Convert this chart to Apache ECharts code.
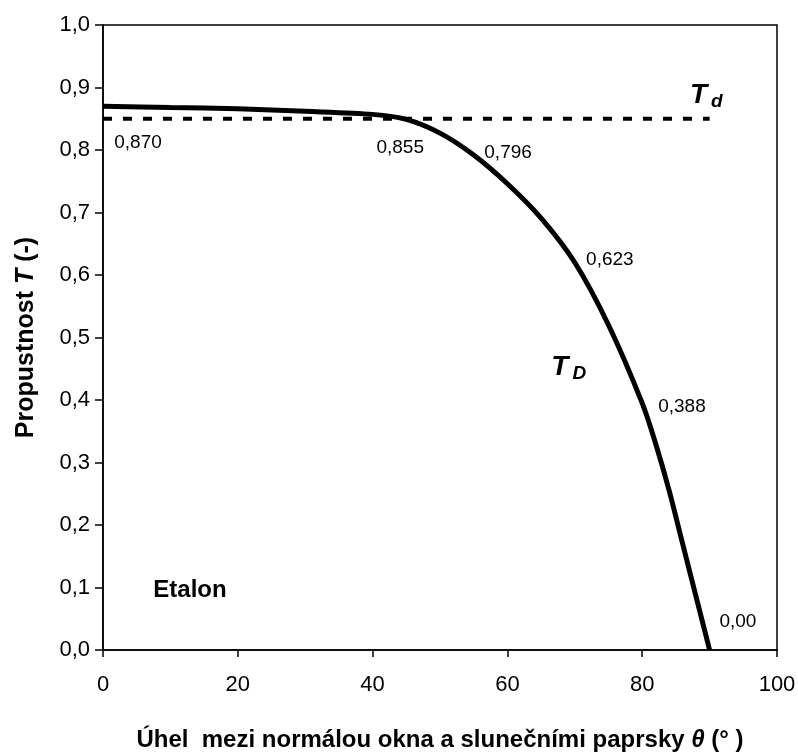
<!DOCTYPE html>
<html>
<head>
<meta charset="utf-8">
<script src="https://cdn.jsdelivr.net/npm/echarts@6/dist/echarts.min.js"></script>
<style>
  html, body { margin: 0; padding: 0; background: #fff; }
  #main { width: 798px; height: 756px; }
</style>
</head>
<body>
<div id="main"></div>
<script>
// úhel dopadu (°) a propustnost T_D
const theta = [0, 10, 20, 30, 40, 45, 50, 55, 60, 65, 70, 75, 80, 82, 84, 86, 88, 90];
const tD = [0.870, 0.868, 0.866, 0.862, 0.857, 0.849, 0.827, 0.792, 0.746, 0.691, 0.620, 0.520, 0.395, 0.330, 0.255, 0.170, 0.085, 0.0];
// difuzní propustnost T_d
const tdTheta = [0, 90];
const tdValue = [0.85, 0.85];
// popisky hodnot
const noteText = ['0,870', '0,855', '0,796', '0,623', '0,388', '0,00'];
const noteAt = [[5.2, 0.812], [44.1, 0.804], [60.1, 0.796], [75.2, 0.625], [85.9, 0.389], [94.2, 0.045]];
const xTicks = [0, 20, 40, 60, 80, 100];
const yTicks = [0, 0.1, 0.2, 0.3, 0.4, 0.5, 0.6, 0.7, 0.8, 0.9, 1.0];

const font = '"Liberation Sans", Arial, sans-serif';

const myChart = echarts.init(document.getElementById('main'));
const option = {
  animation: false,
  grid: {
    left: 103, right: 21, top: 25, bottom: 106,
    outerBoundsMode: 'none',
    show: true, borderColor: '#000', borderWidth: 1.5
  },
  xAxis: {
    type: 'value',
    min: xTicks[0], max: xTicks[xTicks.length - 1], interval: 20,
    axisLine: { lineStyle: { color: '#000', width: 1.5 } },
    axisTick: { inside: false, length: 7, lineStyle: { color: '#000', width: 1.5 } },
    axisLabel: { color: '#000', fontFamily: font, fontSize: 22, margin: 24 },
    splitLine: { show: false },
    name: '{b|Úhel  mezi normálou okna a slunečními paprsky }{i|θ}{b| (° )}',
    nameLocation: 'middle',
    nameGap: 78,
    nameTextStyle: {
      rich: {
        b: { fontFamily: font, fontWeight: 'bold', fontSize: 24, color: '#000' },
        i: { fontFamily: font, fontWeight: 'bold', fontStyle: 'italic', fontSize: 24, color: '#000' }
      }
    }
  },
  yAxis: {
    type: 'value',
    min: yTicks[0], max: yTicks[yTicks.length - 1], interval: 0.1,
    axisLine: { show: true, lineStyle: { color: '#000', width: 1.5 } },
    axisTick: { show: true, inside: false, length: 8, lineStyle: { color: '#000', width: 1.5 } },
    axisLabel: {
      color: '#000', fontFamily: font, fontSize: 22, margin: 13,
      formatter: v => v.toFixed(1).replace('.', ',')
    },
    splitLine: { show: false },
    name: '{b|Propustnost }{i|T}{b| (-)}',
    nameLocation: 'middle',
    nameGap: 64,
    nameRotate: 90,
    nameTextStyle: {
      rich: {
        b: { fontFamily: font, fontWeight: 'bold', fontSize: 25, color: '#000' },
        i: { fontFamily: font, fontWeight: 'bold', fontStyle: 'italic', fontSize: 25, color: '#000' }
      }
    }
  },
  series: [
    {
      name: 'Td',
      type: 'line',
      data: tdTheta.map((x, i) => [x, tdValue[i]]),
      symbol: 'none',
      lineStyle: { color: '#000', width: 4, type: [9, 11] },
      z: 2
    },
    {
      name: 'TD',
      type: 'line',
      data: theta.map((x, i) => [x, tD[i]]),
      symbol: 'none',
      smooth: 0.3,
      lineStyle: { color: '#000', width: 5 },
      z: 3
    },
    {
      name: 'popisky',
      type: 'scatter',
      symbolSize: 0,
      itemStyle: { opacity: 1 },
      data: noteAt.map((p, i) => ({ value: p, name: noteText[i] })),
      label: {
        show: true, position: 'inside', formatter: '{b}',
        color: '#000', fontFamily: font, fontSize: 19
      },
      z: 4
    },
    {
      name: 'nazvy',
      type: 'scatter',
      symbolSize: 0,
      itemStyle: { opacity: 1 },
      data: [
        { value: [12.9, 0.096], name: 'Etalon', label: { formatter: '{e|Etalon}' } },
        { value: [89.5, 0.888], name: 'Td', label: { formatter: '{t|T}{s|d}' } },
        { value: [69.1, 0.453], name: 'TD', label: { formatter: '{t|T}{s|D}' } }
      ],
      label: {
        show: true, position: 'inside',
        rich: {
          e: { fontFamily: font, fontWeight: 'bold', fontSize: 24, color: '#000' },
          t: { fontFamily: font, fontWeight: 'bold', fontStyle: 'italic', fontSize: 28, color: '#000' },
          s: { fontFamily: font, fontWeight: 'bold', fontStyle: 'italic', fontSize: 19, color: '#000', padding: [14, 0, 0, 4] }
        }
      },
      z: 4
    }
  ]
};
myChart.setOption(option);
window.addEventListener('resize', function () {
  myChart.resize();
});
</script>
</body>
</html>
